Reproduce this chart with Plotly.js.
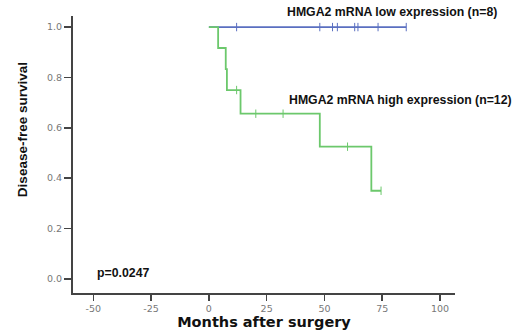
<!DOCTYPE html>
<html>
<head>
<meta charset="utf-8">
<script src="https://cdn.plot.ly/plotly-3.0.1.min.js"></script>
<style>html,body{margin:0;padding:0;background:#fff;}#chart{width:521px;height:333px;}</style>
</head>
<body>
<div id="chart"></div>
<script>
// Kaplan-Meier step data (months, survival)
var lowTimes = [0, 85.4];
var lowSurv = [1.0, 1.0];
var lowCensorTimes = [12, 48, 53.5, 55.6, 63.1, 64.5, 73.2, 85.4];
var lowCensorSurv = [1, 1, 1, 1, 1, 1, 1, 1];

var highTimes = [0, 4, 7.3, 7.8, 13.7, 48, 70.3, 74.5];
var highSurv = [1.0, 0.917, 0.833, 0.75, 0.656, 0.525, 0.35, 0.35];
var highCensorTimes = [12, 20.3, 32.1, 60, 74.5];
var highCensorSurv = [0.75, 0.656, 0.656, 0.525, 0.35];

var xTicks = [-50, -25, 0, 25, 50, 75, 100];
var yTicks = [0.0, 0.2, 0.4, 0.6, 0.8, 1.0];

var labelLow = "HMGA2 mRNA low expression (n=8)";
var labelHigh = "HMGA2 mRNA high expression (n=12)";
var pText = "p=0.0247";

var blue = "#5a6fc0", green = "#6cc86c";

var traces = [
  {x: lowTimes, y: lowSurv, mode: "lines", line: {shape: "hv", color: blue, width: 1.6}, hoverinfo: "skip"},
  {x: lowCensorTimes, y: lowCensorSurv, mode: "markers", marker: {symbol: "line-ns", size: 6, line: {width: 1, color: blue}}, hoverinfo: "skip"},
  {x: highTimes, y: highSurv, mode: "lines", line: {shape: "hv", color: green, width: 1.8}, hoverinfo: "skip"},
  {x: highCensorTimes, y: highCensorSurv, mode: "markers", marker: {symbol: "line-ns", size: 6, line: {width: 1, color: green}}, hoverinfo: "skip"}
];

var tickFont = {family: "DejaVu Sans, Verdana, sans-serif", size: 9.5, color: "#777"};
var annFont = {family: "Liberation Sans, Arial, sans-serif", size: 12.3, color: "#111", weight: "bold"};

var layout = {
  width: 521, height: 333,
  margin: {l: 73, r: 66, t: 16, b: 40},
  paper_bgcolor: "#fff", plot_bgcolor: "#fff",
  showlegend: false,
  xaxis: {
    range: [-58.8, 106.5], tickvals: xTicks, ticktext: xTicks.map(String),
    showgrid: false, zeroline: false, showline: true, linecolor: "#444", linewidth: 2,
    ticks: "outside", ticklen: 6, tickwidth: 1.5, tickcolor: "#444",
    tickfont: tickFont,
    title: {text: "Months after surgery", standoff: 0,
            font: {family: "DejaVu Sans, Verdana, sans-serif", size: 14.5, color: "#111", weight: "bold"}}
  },
  yaxis: {
    range: [-0.056, 1.044], tickvals: yTicks, ticktext: yTicks.map(function(v){return v.toFixed(1);}),
    showgrid: false, zeroline: false, showline: true, linecolor: "#444", linewidth: 2,
    ticks: "outside", ticklen: 7, tickwidth: 1.5, tickcolor: "#444",
    tickfont: tickFont
  },
  annotations: [
    {xref: "x", yref: "paper", x: 32.8, y: 1.0144, text: labelLow, showarrow: false, xanchor: "left", yanchor: "middle", font: annFont},
    {xref: "x", yref: "y", x: 33.6, y: 0.71, text: labelHigh, showarrow: false, xanchor: "left", yanchor: "middle", font: annFont},
    {xref: "x", yref: "y", x: -49.3, y: 0.024, text: pText, showarrow: false, xanchor: "left", yanchor: "middle", font: annFont},
    {xref: "paper", yref: "paper", x: -0.1335, y: 0.588, text: "Disease-free survival", showarrow: false,
     textangle: -90, xanchor: "center", yanchor: "middle",
     font: {family: "Liberation Sans, Arial, sans-serif", size: 13.5, color: "#111", weight: "bold"}}
  ]
};

Plotly.newPlot("chart", traces, layout, {displayModeBar: false, staticPlot: true});
</script>
</body>
</html>
